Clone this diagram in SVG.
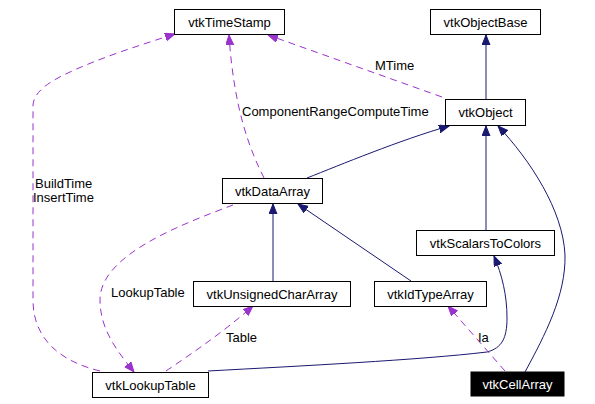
<svg xmlns="http://www.w3.org/2000/svg" width="595" height="404" viewBox="0 0 595 404">
<style>
.node rect{fill:#fff;stroke:#000;stroke-width:1}
.node text,.lbl{font-family:"Liberation Sans",Arial,sans-serif;font-size:13px;fill:#000}
.node text{text-anchor:middle}
.inh{fill:none;stroke:#191970;stroke-width:1;marker-end:url(#ah)}
.use{fill:none;stroke:#9a32cd;stroke-width:1;stroke-dasharray:7,5;marker-end:url(#ap)}
#n_cellarray rect{fill:#000}
#n_cellarray text{fill:#fff}
</style>
<defs>
<marker id="ah" markerUnits="userSpaceOnUse" markerWidth="11" markerHeight="9" refX="10" refY="4" orient="auto" viewBox="0 0 11 9">
<path d="M0,0 L10,4 L0,8 z" fill="#191970" stroke="#191970"/>
</marker>
<marker id="ap" markerUnits="userSpaceOnUse" markerWidth="11" markerHeight="9" refX="10" refY="4" orient="auto" viewBox="0 0 11 9">
<path d="M0,0 L10,4 L0,8 z" fill="#9a32cd" stroke="#9a32cd"/>
</marker>
</defs>
<rect width="595" height="404" fill="#fff"/>
<g id="edges">
<path class="inh" d="M486,99 L486,35"/>
<path class="inh" d="M486,230 L486,126"/>
<path class="inh" d="M307,178 C340,165 400,140 449,126"/>
<path class="inh" d="M525,372 C545,335 566,295 565,255 C563,210 530,160 498,126"/>
<path class="inh" d="M273,281 L273,204"/>
<path class="inh" d="M411,281 L298,204"/>
<path class="inh" d="M208,371 C300,366 420,360 487,352 C502,348 507,338 507,318 C507,295 502,275 494,256"/>
<path class="use" d="M264,178 C250,150 234,110 229,35"/>
<path class="use" d="M442,97 L268,35"/>
<path class="use" d="M100,371 C55,360 33,335 33,300 L33,105 C34,92 48,82 70,72 C100,58 140,45 175,34"/>
<path class="use" d="M233,205 C180,225 100,255 100,300 C100,330 118,352 134,372"/>
<path class="use" d="M166,371 C185,358 220,335 253,306"/>
<path class="use" d="M505,371 L448,306"/>
<text class="lbl" x="375" y="70">MTime</text>
<text class="lbl" x="242" y="116">ComponentRangeComputeTime</text>
<text class="lbl" x="35" y="188">BuildTime</text>
<text class="lbl" x="33" y="202">InsertTime</text>
<text class="lbl" x="111" y="297">LookupTable</text>
<text class="lbl" x="226" y="342">Table</text>
<text class="lbl" x="478" y="342">Ia</text>
</g>
<g id="n_timestamp" class="node"><rect x="174.5" y="9.5" width="110" height="25"/><text x="229.5" y="26.5">vtkTimeStamp</text></g>
<g id="n_objectbase" class="node"><rect x="430.5" y="9.5" width="110" height="25"/><text x="485.5" y="26.5">vtkObjectBase</text></g>
<g id="n_object" class="node"><rect x="445.5" y="99.5" width="80" height="26"/><text x="485.5" y="117">vtkObject</text></g>
<g id="n_dataarray" class="node"><rect x="222.5" y="178.5" width="100" height="25"/><text x="272.5" y="195.5">vtkDataArray</text></g>
<g id="n_scalarstocolors" class="node"><rect x="416.5" y="230.5" width="138" height="25"/><text x="485.5" y="247.5">vtkScalarsToColors</text></g>
<g id="n_unsignedchararray" class="node"><rect x="193.5" y="281.5" width="157" height="25"/><text x="272" y="298.5">vtkUnsignedCharArray</text></g>
<g id="n_idtypearray" class="node"><rect x="374.5" y="281.5" width="112" height="25"/><text x="430.5" y="298.5">vtkIdTypeArray</text></g>
<g id="n_lookuptable" class="node"><rect x="92.5" y="372.5" width="116" height="25"/><text x="150.5" y="389.5">vtkLookupTable</text></g>
<g id="n_cellarray" class="node"><rect x="471" y="372" width="93" height="24"/><text x="517.5" y="389">vtkCellArray</text></g>
</svg>
